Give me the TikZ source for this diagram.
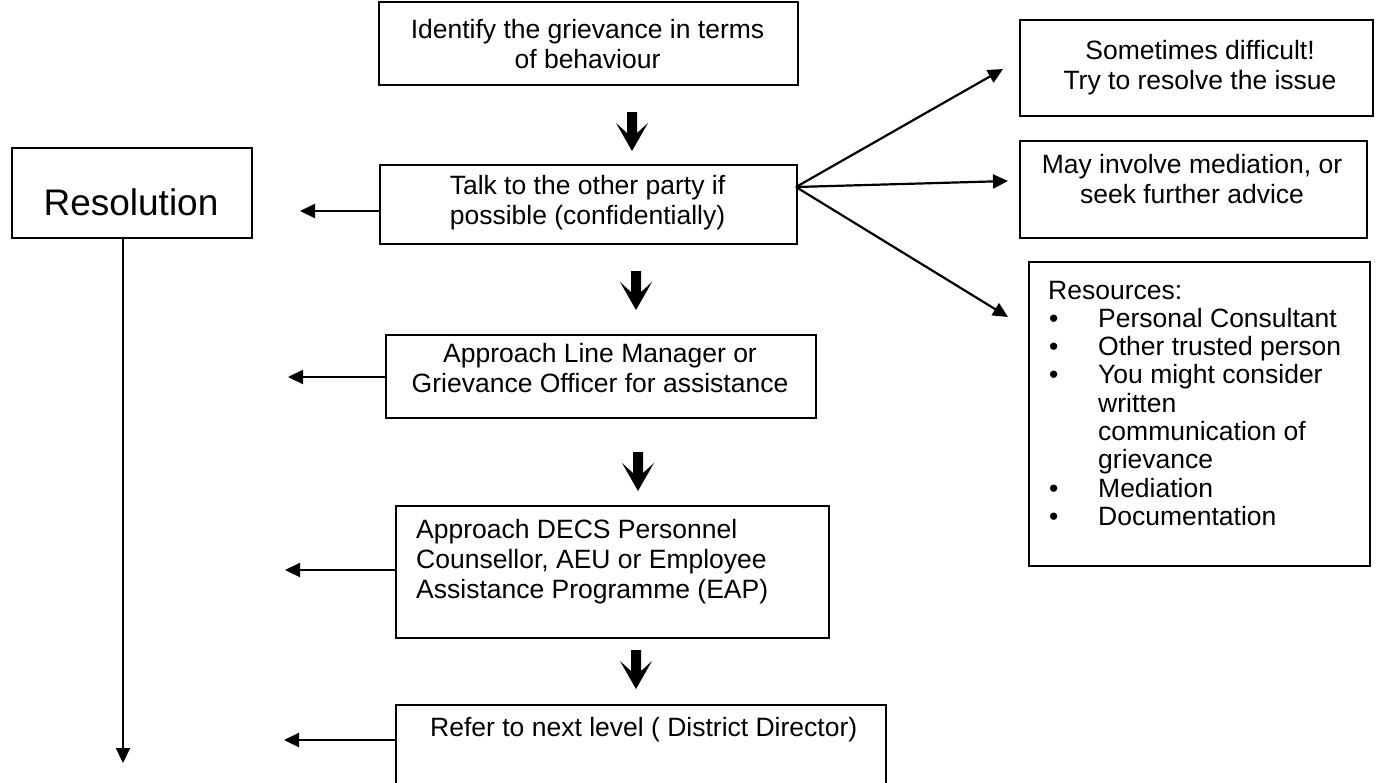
\documentclass[tikz,border=0pt]{standalone}
\usepackage{fontspec}
\setmainfont{Liberation Sans}
\usetikzlibrary{arrows.meta}
\begin{document}
\begin{tikzpicture}[x=1pt,y=1pt,
  box/.style={draw=black, line width=2pt, rectangle, inner sep=0pt, anchor=north west},
  txt/.style={font=\fontsize{26.5}{30}\selectfont, align=center, inner sep=0pt},
  arr/.style={line width=2.2pt, -{Triangle[length=15pt,width=14pt]}},
  downarrow/.pic={\fill[black] (-5,0) -- (5,0) -- (5,-21) -- (16,-11) -- (0,-39) -- (-16,-11) -- (-5,-21) -- cycle;}
]
\useasboundingbox (0,0) rectangle (1379,-782);
\fill[white] (0,0) rectangle (1379,-782);
\clip (0,0) rectangle (1379,-782);

% boxes
\node[box, minimum width=419pt, minimum height=83pt] (b1) at (378,-1) {};
\node[box, minimum width=417pt, minimum height=79pt] (b2) at (379,-164) {};
\node[box, minimum width=430pt, minimum height=83pt] (b3) at (385,-334) {};
\node[box, minimum width=433pt, minimum height=132pt] (b4) at (395,-505) {};
\node[box, minimum width=490pt, minimum height=120pt] (b5) at (395,-704) {};
\node[box, minimum width=240pt, minimum height=90pt] (res) at (11,-147) {};
\node[box, minimum width=353pt, minimum height=96pt] (rA) at (1019,-19) {};
\node[box, minimum width=347pt, minimum height=97pt] (rB) at (1019,-140) {};
\node[box, minimum width=341pt, minimum height=304pt] (rC) at (1028,-261) {};

% texts
\node[txt] (t1) at (587.5,-44) {Identify the grievance in terms\\of behaviour};
\node[txt] (t2) at (587.5,-203) {Talk to the other party if\\possible (confidentially)};
\node[txt] (t3) at (600,-368) {Approach Line Manager or\\Grievance Officer for assistance};
\node[txt, align=left, anchor=west] (t4) at (416,-562) {Approach DECS Personnel\\Counsellor, AEU or Employee\\Assistance Programme (EAP)};
\node[txt, anchor=west] (t5) at (430,-730) {Refer to next level ( District Director)};
\node[txt, font=\fontsize{37}{44}\selectfont] (tres) at (131,-202) {Resolution};
\node[txt] (tA) at (1200,-68) {Sometimes difficult!\\Try to resolve the issue};
\node[txt] (tB) at (1192,-179) {May involve mediation, or\\seek further advice};
\node[inner sep=0pt, anchor=north west, font=\fontsize{26.5}{28.3}\selectfont] (tC) at (1048,-279) {%
\begin{tabular}{@{}p{50pt}@{}l@{}}
\multicolumn{2}{@{}l@{}}{Resources:}\\
\hspace{1pt}\textbullet & Personal Consultant\\
\hspace{1pt}\textbullet & Other trusted person\\
\hspace{1pt}\textbullet & You might consider\\
 & written\\
 & communication of\\
 & grievance\\
\hspace{1pt}\textbullet & Mediation\\
\hspace{1pt}\textbullet & Documentation
\end{tabular}};

% block arrows
\pic at (632,-112) {downarrow};
\pic at (636,-271) {downarrow};
\pic at (638,-452) {downarrow};
\pic at (636,-650) {downarrow};

% fan arrows
\coordinate (fan) at (796,-187);
\coordinate (eA) at (1003,-69);
\coordinate (eB) at (1008,-181);
\coordinate (eC) at (1008,-317);
\draw[arr] (fan) -- (eA);
\draw[arr] (fan) -- (eB);
\draw[arr] (fan) -- (eC);

% left arrows
\coordinate (l2) at (300,-211);
\coordinate (l3) at (288,-377);
\coordinate (l4) at (285,-570);
\coordinate (l5) at (284,-740);
\draw[arr] (l2 -| b2.west) -- (l2);
\draw[arr] (l3 -| b3.west) -- (l3);
\draw[arr] (l4 -| b4.west) -- (l4);
\draw[arr] (l5 -| b5.west) -- (l5);

% resolution line
\coordinate (rl) at (123,-763);
\draw[arr] (rl |- res.south) -- (rl);
\end{tikzpicture}
\end{document}
